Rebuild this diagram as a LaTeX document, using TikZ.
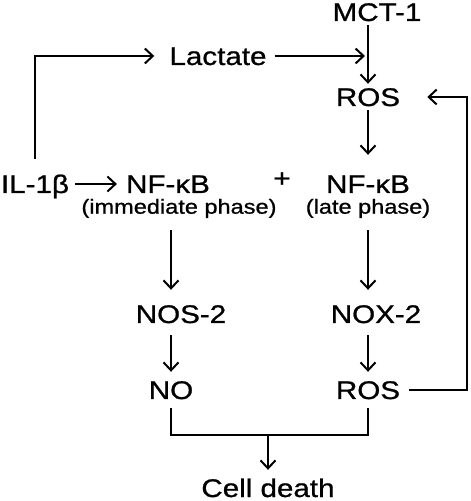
\documentclass[tikz,border=0pt]{standalone}
\usepackage{fontspec}
\setmainfont{Liberation Sans}[FakeStretch=1.16,FakeBold=0.9]
\usetikzlibrary{positioning,arrows.meta}
\tikzset{
  lbl/.style={inner sep=4pt,text height=18pt,text depth=0pt,font=\fontsize{25.5}{30}\selectfont},
  phase/.style={inner sep=3pt,text height=16pt,text depth=4.6pt,font=\fontsize{20.3}{25}\selectfont},
  arr/.style={line width=2pt,-{Straight Barb[length=8pt,width=15pt]}},
  ln/.style={line width=2pt}
}
\begin{document}
\begin{tikzpicture}[on grid]
            \useasboundingbox (0,0) rectangle (471pt,501pt);
            \node[lbl] (ros1) at (368pt,404pt) {ROS};
            \node[lbl] (mct) [above right=85pt and 9pt of ros1] {MCT-1};
            \node[lbl] (lac) [above left=41pt and 150pt of ros1] {Lactate};
            \node[lbl] (nfR) [below=87pt of ros1] {NF-κB};
            \node[phase] (phR) [below=24pt of nfR] {(late phase)};
            \node[lbl] (plus) [above left=6pt and 86pt of nfR] {+};
            \node[lbl] (nfL) [left=200pt of nfR] {NF-κB};
            \node[phase] (phL) [below right=24pt and 11pt of nfL] {(immediate phase)};
            \node[lbl] (il) [left=133pt of nfL] {IL-1β};
            \node[lbl] (nox) [below right=130pt and 8pt of nfR] {NOX-2};
            \node[lbl] (nos) [below right=130pt and 13pt of nfL] {NOS-2};
            \node[lbl] (ros2) [below=206pt of nfR] {ROS};
            \node[lbl] (no) [below right=206pt and 3pt of nfL] {NO};
            \node[lbl] (death) [below left=98pt and 100pt of ros2] {Cell death};

            % upper part
            \draw[arr] (mct.south -| ros1) -- (ros1);
            \draw[arr, shorten <=4pt, shorten >=3pt] (lac.east) -- (lac.east -| ros1);
            \draw[arr, shorten <=12pt, shorten >=11pt] (il.north) |- (lac.west);
            \draw[arr, shorten <=2pt, shorten >=5pt] (il) -- (nfL);
            \draw[arr, shorten >=16pt] (ros1) -- (nfR);

            % columns
            \draw[arr, shorten <=9pt, shorten >=11pt] (phL.south -| no) -- (nos.north -| no);
            \draw[arr, shorten <=9pt, shorten >=11pt] (phR.south -| ros1) -- (nox.north -| ros1);
            \draw[arr, shorten <=8pt, shorten >=5pt] (nos.south -| no) -- (no);
            \draw[arr, shorten <=8pt, shorten >=5pt] (nox.south -| ros1) -- (ros2);

            % feedback and cell death
            \draw[arr, shorten <=5pt, shorten >=23pt] (ros2.east) -- ++(63pt,0) |- (ros1.east);
            \draw[ln, shorten <=5pt, shorten >=5pt] (no.south) -- ++(0,-32pt) coordinate (nbot) -| (ros2.south);
            \draw[arr, shorten >=5pt] (nbot -| death) -- (death);
\end{tikzpicture}
\end{document}
